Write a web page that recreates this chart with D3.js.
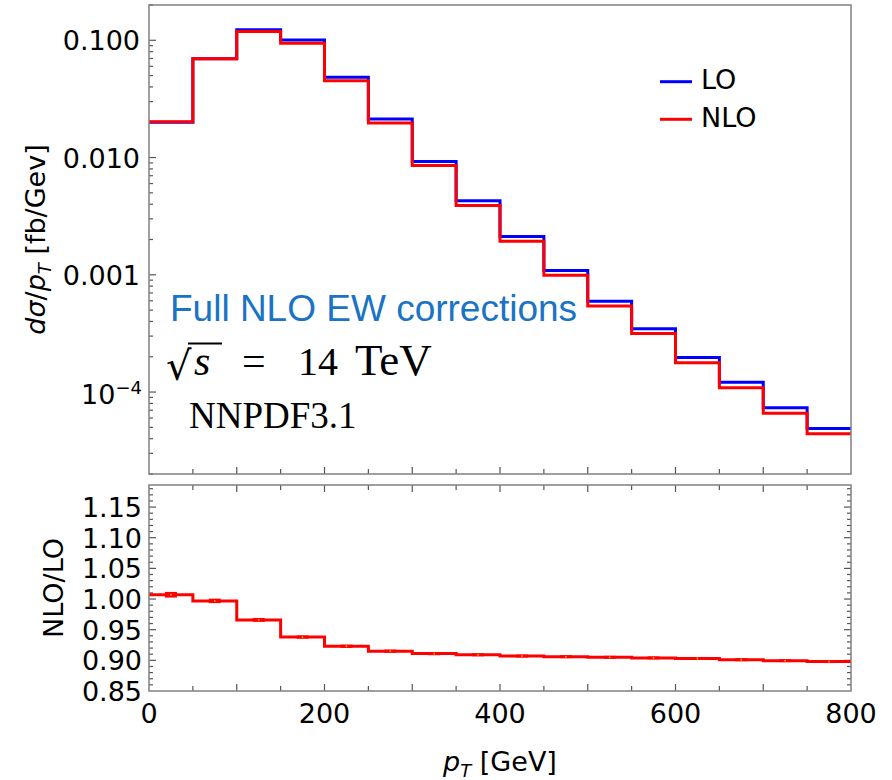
<!DOCTYPE html>
<html>
<head>
<meta charset="utf-8">
<script src="https://cdn.jsdelivr.net/npm/d3@7"></script>
<style>
  body { margin: 0; background: #fff; }
  svg { display: block; }
  text { fill: #000; }
</style>
</head>
<body>
<svg id="chart" width="892" height="780" font-family="DejaVu Sans, sans-serif"></svg>
<script>
(function (d3) {

    /***** Data *****/
    var binEdges = [0, 50, 100, 150, 200, 250, 300, 350, 400, 450, 500, 550, 600, 650, 700, 750, 800];
    var loValues = [0.0200, 0.0697, 0.123, 0.1006, 0.0484, 0.0213, 0.00927, 0.00428, 0.00212, 0.00109,
                    0.000596, 0.000347, 0.000197, 0.000121, 0.0000733, 0.0000489];
    var nloValues = [0.0202, 0.0697, 0.119, 0.0943, 0.0451, 0.0197, 0.00856, 0.00390, 0.00193, 0.000990,
                     0.000541, 0.000315, 0.000178, 0.000109, 0.0000661, 0.0000440];
    var ratioValues = [1.007, 0.997, 0.966, 0.938, 0.923, 0.915, 0.911, 0.909, 0.907, 0.906,
                       0.905, 0.904, 0.903, 0.901, 0.8995, 0.898];
    var ratioErrors = [0.003, 0.002, 0.0015, 0.001, 0.001, 0.001, 0.001, 0.0008, 0.0008, 0.0008,
                       0.0008, 0.0008, 0.0008, 0.0008, 0.0008, 0.0008];
    var topTicks = [0.1, 0.01, 0.001, 0.0001];
    var ratioTicks = [0.85, 0.90, 0.95, 1.00, 1.05, 1.10, 1.15];
    var xTicks = [0, 200, 400, 600, 800];

    /***** Configuration *****/
    var left = 149, right = 851;
    var topPanel = { top: 5, bottom: 474 };
    var botPanel = { top: 485, bottom: 691 };
    var frameColor = "#808080";
    var serif = "'Liberation Serif', 'DejaVu Serif', serif";

    /***** Scales *****/
    var x = d3.scaleLinear().domain([0, 800]).range([left, right]);
    var yTop = d3.scaleLog().domain([2e-5, 0.2]).range([topPanel.bottom, topPanel.top]);
    var yBot = d3.scaleLinear().domain([0.85, 1.186]).range([botPanel.bottom, botPanel.top]);

    var svg = d3.select("#chart");

    function stepLine(values, yScale) {
        var pts = [];
        values.forEach(function (v, i) {
            pts.push([x(binEdges[i]), yScale(v)]);
            pts.push([x(binEdges[i + 1]), yScale(v)]);
        });
        return d3.line()(pts);
    }

    function drawFrame(panel) {
        svg.append("rect")
           .attr("x", left).attr("y", panel.top)
           .attr("width", right - left).attr("height", panel.bottom - panel.top)
           .attr("fill", "none").attr("stroke", frameColor).attr("stroke-width", 1.5);
    }

    function xInnerTicks(g, panel, withTop) {
        d3.range(50, 800, 50).forEach(function (t) {
            var len = (t % 100 === 0) ? 7 : 5;
            g.append("line")
             .attr("x1", x(t)).attr("x2", x(t))
             .attr("y1", panel.bottom).attr("y2", panel.bottom - len);
            if (withTop) {
                g.append("line")
                 .attr("x1", x(t)).attr("x2", x(t))
                 .attr("y1", panel.top).attr("y2", panel.top + len);
            }
        });
    }

    /***** Top panel *****/
    var topTickG = svg.append("g").attr("stroke", "#555").attr("stroke-width", 1.2);
    xInnerTicks(topTickG, topPanel, false);

    // log ticks on the left (major + minor)
    for (var e = -5; e <= -1; e++) {
        for (var m = 1; m <= 9; m++) {
            var v = m * Math.pow(10, e);
            if (v < 2e-5 || v > 0.2) continue;
            topTickG.append("line")
                .attr("x1", left).attr("x2", left + (m === 1 ? 7 : 4))
                .attr("y1", yTop(v)).attr("y2", yTop(v));
        }
    }

    svg.append("path")
       .attr("d", stepLine(loValues, yTop))
       .attr("fill", "none").attr("stroke", "#0000ff").attr("stroke-width", 3);
    svg.append("path")
       .attr("d", stepLine(nloValues, yTop))
       .attr("fill", "none").attr("stroke", "#ff0000").attr("stroke-width", 3);

    drawFrame(topPanel);

    var fmt = { 0.1: "0.100", 0.01: "0.010", 0.001: "0.001" };
    topTicks.forEach(function (t) {
        var txt = svg.append("text")
            .attr("text-anchor", "end")
            .attr("font-size", 27);
        if (fmt[t]) {
            txt.attr("x", 140).attr("y", yTop(t) + 10).text(fmt[t]);
        } else {
            txt.attr("x", 142).attr("y", yTop(t) + 12);
            txt.append("tspan").text("10");
            txt.append("tspan").attr("dy", -10).attr("font-size", 18).text("\u22124");
        }
    });

    // y label
    var ylab = svg.append("text")
        .attr("transform", "translate(45," + ((topPanel.top + topPanel.bottom) / 2) + ") rotate(-90)")
        .attr("text-anchor", "middle")
        .attr("font-size", 27);
    ylab.append("tspan").attr("font-style", "italic").text("d\u03c3");
    ylab.append("tspan").text("/");
    ylab.append("tspan").attr("font-style", "italic").text("p");
    ylab.append("tspan").attr("font-style", "italic").attr("font-size", 18).attr("dy", 6).text("T");
    ylab.append("tspan").attr("dy", -6).text(" [fb/Gev]");

    // legend
    var legendItems = [["LO", "#0000ff", 81.7], ["NLO", "#ff0000", 119.3]];
    legendItems.forEach(function (it) {
        svg.append("line")
           .attr("x1", 660).attr("x2", 692)
           .attr("y1", it[2]).attr("y2", it[2])
           .attr("stroke", it[1]).attr("stroke-width", 3);
        svg.append("text")
           .attr("x", 701).attr("y", it[2] + 7.3)
           .attr("font-size", 27)
           .text(it[0]);
    });

    // annotations
    svg.append("text")
       .attr("x", 170).attr("y", 321)
       .style("font-family", "'Liberation Sans', Arial, sans-serif")
       .attr("font-size", 37)
       .style("fill", "#1a73c4")
       .text("Full NLO EW corrections");

    svg.append("text")
       .attr("x", 166).attr("y", 380)
       .style("font-family", "'DejaVu Serif', serif")
       .attr("font-size", 40)
       .text("\u221a");
    svg.append("line")
       .attr("x1", 188).attr("x2", 222)
       .attr("y1", 343.5).attr("y2", 343.5)
       .attr("stroke", "#000").attr("stroke-width", 1.8);
    svg.append("text")
       .attr("x", 194).attr("y", 375)
       .style("font-family", serif)
       .style("font-style", "italic")
       .attr("font-size", 42)
       .text("s");
    svg.append("text")
       .attr("x", 242).attr("y", 375)
       .style("font-family", serif)
       .attr("font-size", 42)
       .text("=");
    svg.append("text")
       .attr("x", 298).attr("y", 375)
       .style("font-family", serif)
       .attr("font-size", 40)
       .text("14");
    svg.append("text")
       .attr("x", 355).attr("y", 375)
       .style("font-family", serif)
       .attr("font-size", 45)
       .text("TeV");

    svg.append("text")
       .attr("x", 189).attr("y", 428)
       .style("font-family", serif)
       .attr("font-size", 37)
       .text("NNPDF3.1");

    /***** Bottom panel *****/
    var botTickG = svg.append("g").attr("stroke", "#555").attr("stroke-width", 1.2);
    xInnerTicks(botTickG, botPanel, true);
    d3.range(86, 119).forEach(function (k) {
        var v = k / 100;
        var len = (k % 5 === 0) ? 7 : 4;
        botTickG.append("line")
            .attr("x1", left).attr("x2", left + len)
            .attr("y1", yBot(v)).attr("y2", yBot(v));
        botTickG.append("line")
            .attr("x1", right).attr("x2", right - len)
            .attr("y1", yBot(v)).attr("y2", yBot(v));
    });

    svg.append("path")
       .attr("d", stepLine(ratioValues, yBot))
       .attr("fill", "none").attr("stroke", "#ff0000").attr("stroke-width", 3);

    var centers = ratioValues.map(function (r, i) { return (binEdges[i] + binEdges[i + 1]) / 2; });
    svg.append("g").selectAll("rect")
       .data(ratioValues)
       .join("rect")
       .attr("x", function (d, i) { return x(centers[i]) - 6; })
       .attr("width", 12)
       .attr("y", function (d, i) { return yBot(d + ratioErrors[i]) - 1; })
       .attr("height", function (d, i) { return yBot(d - ratioErrors[i]) - yBot(d + ratioErrors[i]) + 2; })
       .attr("fill", "#ff0000");
    svg.append("g").selectAll("circle")
       .data(ratioValues)
       .join("circle")
       .attr("cx", function (d, i) { return x(centers[i]); })
       .attr("cy", function (d) { return yBot(d); })
       .attr("r", 0.9)
       .attr("fill", "#f5b800");

    drawFrame(botPanel);

    ratioTicks.forEach(function (t) {
        svg.append("text")
           .attr("x", 142).attr("y", yBot(t) + 10)
           .attr("text-anchor", "end")
           .attr("font-size", 27)
           .text(t.toFixed(2));
    });
    xTicks.forEach(function (t) {
        svg.append("text")
           .attr("x", x(t)).attr("y", botPanel.bottom + 32)
           .attr("text-anchor", "middle")
           .attr("font-size", 27)
           .text(t);
    });

    svg.append("text")
       .attr("transform", "translate(63," + ((botPanel.top + botPanel.bottom) / 2) + ") rotate(-90)")
       .attr("text-anchor", "middle")
       .attr("font-size", 27)
       .text("NLO/LO");

    var xlab = svg.append("text")
       .attr("x", (left + right) / 2).attr("y", 771)
       .attr("text-anchor", "middle")
       .attr("font-size", 27);
    xlab.append("tspan").attr("font-style", "italic").text("p");
    xlab.append("tspan").attr("font-style", "italic").attr("font-size", 18).attr("dy", 6).text("T");
    xlab.append("tspan").attr("dy", -6).text(" [GeV]");

})(d3);
</script>
</body>
</html>
